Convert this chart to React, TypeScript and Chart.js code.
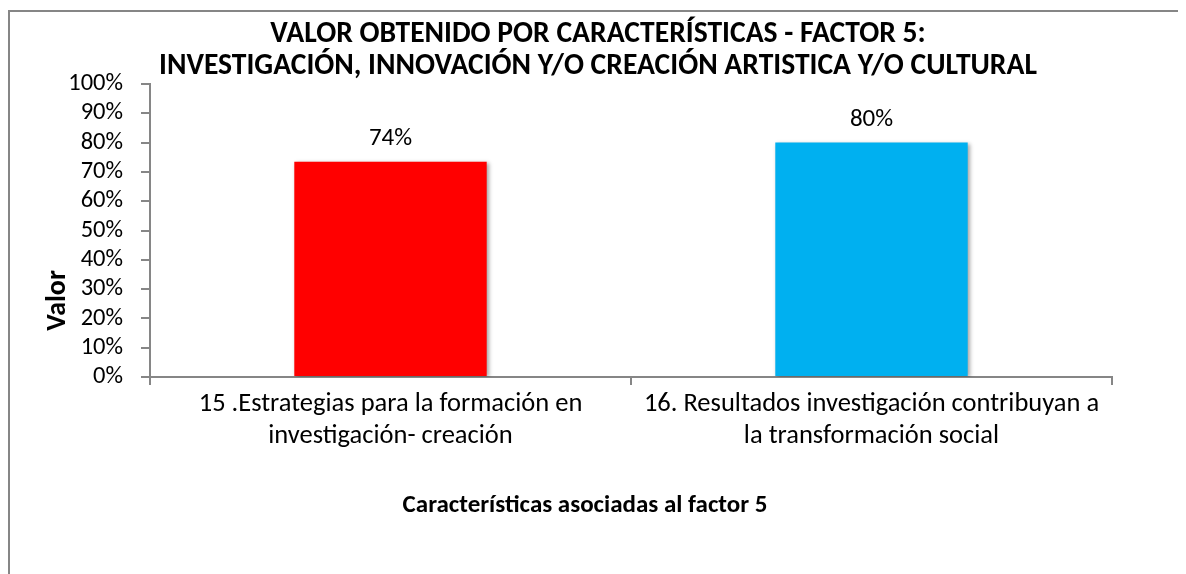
import React, { useEffect, useRef } from "react";
import { Chart, registerables } from "chart.js";

Chart.register(...registerables);

const titleLines = [
  "VALOR OBTENIDO POR CARACTERÍSTICAS - FACTOR 5:",
  "INVESTIGACIÓN, INNOVACIÓN Y/O CREACIÓN ARTISTICA Y/O CULTURAL",
];
const categories = [
  ["15 .Estrategias para la formación en", "investigación- creación"],
  ["16. Resultados investigación contribuyan a", "la transformación social"],
];
const values = [0.735, 0.8];
const valueLabels = ["74%", "80%"];
const barColors = ["#FF0000", "#00B0F0"];
const xAxisTitle = "Características asociadas al factor 5";
const yAxisTitle = "Valor";
const yMin = 0;
const yMax = 1;
const yStep = 0.1;

const FONT = "Carlito, Calibri, Lato, sans-serif";
const AXIS_COLOR = "#868686";

const shadowPlugin = {
  id: "barShadow",
  beforeDatasetsDraw(chart: any) {
    const ctx = chart.ctx;
    ctx.save();
    ctx.shadowColor = "rgba(0,0,0,0.35)";
    ctx.shadowBlur = 4;
    ctx.shadowOffsetX = 2;
    ctx.shadowOffsetY = 1;
  },
  afterDatasetsDraw(chart: any) {
    chart.ctx.restore();
  },
};

const textPlugin = {
  id: "texts",
  afterDraw(chart: any) {
    const ctx = chart.ctx;
    const area = chart.chartArea;
    ctx.save();
    ctx.fillStyle = "#000";
    // title
    ctx.font = `bold 29.6px ${FONT}`;
    ctx.textAlign = "center";
    ctx.textBaseline = "middle";
    titleLines.forEach((line, i) => {
      ctx.fillText(line, chart.width / 2, 23 + i * 32);
    });
    // value labels
    const meta = chart.getDatasetMeta(0);
    ctx.font = `25px ${FONT}`;
    ctx.textBaseline = "alphabetic";
    meta.data.forEach((bar: any, i: number) => {
      ctx.fillText(valueLabels[i], bar.x, bar.y - 17);
    });
    // axis titles
    ctx.font = `bold 25px ${FONT}`;
    ctx.textBaseline = "middle";
    ctx.fillText(xAxisTitle, (area.left + area.right) / 2 - 46, area.bottom + 129);
    ctx.font = `bold 28px ${FONT}`;
    ctx.translate(area.left - 92, (area.top + area.bottom) / 2 + 70);
    ctx.rotate(-Math.PI / 2);
    ctx.fillText(yAxisTitle, 0, 0);
    ctx.restore();
  },
};

export default function App() {
  const ref = useRef<HTMLCanvasElement>(null);
  useEffect(() => {
    if (!ref.current) return;
    const chart = new Chart(ref.current, {
      type: "bar",
      data: {
        labels: categories as any,
        datasets: [
          {
            data: values,
            backgroundColor: barColors,
            borderWidth: 0,
            barPercentage: 0.4,
            categoryPercentage: 1,
          },
        ],
      },
      options: {
        animation: false,
        responsive: false,
        devicePixelRatio: 1,
        layout: { padding: { left: 50, right: 74, top: 72, bottom: 122 } },
        plugins: {
          legend: { display: false },
          tooltip: { enabled: false },
          title: { display: false },
        },
        scales: {
          x: {
            type: "category",
            offset: true,
            grid: {
              offset: true,
              drawOnChartArea: false,
              drawTicks: true,
              tickLength: 8,
              color: AXIS_COLOR,
              lineWidth: 2,
            },
            border: { color: AXIS_COLOR, width: 2 },
            ticks: {
              color: "#000",
              padding: 4,
              maxRotation: 0,
              autoSkip: false,
              font: { family: FONT, size: 26.5, lineHeight: "31.5px" },
            },
            afterFit(scale: any) {
              scale.height = 75;
            },
          },
          y: {
            min: yMin,
            max: yMax,
            grid: {
              drawOnChartArea: false,
              drawTicks: true,
              tickLength: 9,
              color: AXIS_COLOR,
              lineWidth: 2,
            },
            border: { color: AXIS_COLOR, width: 2 },
            ticks: {
              stepSize: yStep,
              autoSkip: false,
              color: "#000",
              padding: 18,
              font: { family: FONT, size: 24.5 },
              callback: (v: any) => Math.round(Number(v) * 100) + "%",
            },
            afterFit(scale: any) {
              scale.width = 90;
            },
          },
        },
      },
      plugins: [shadowPlugin, textPlugin],
    });
    return () => chart.destroy();
  }, []);

  return (
    <div style={{ position: "relative", width: 1178, height: 566, overflow: "hidden", background: "#fff" }}>
      <div
        style={{
          position: "absolute",
          left: 0,
          top: 2,
          width: 1300,
          height: 700,
          borderTop: `2px solid ${AXIS_COLOR}`,
          borderLeft: `2px solid ${AXIS_COLOR}`,
        }}
      >
        <canvas ref={ref} width={1176} height={562} style={{ display: "block", width: 1176, height: 562 }} />
      </div>
    </div>
  );
}
